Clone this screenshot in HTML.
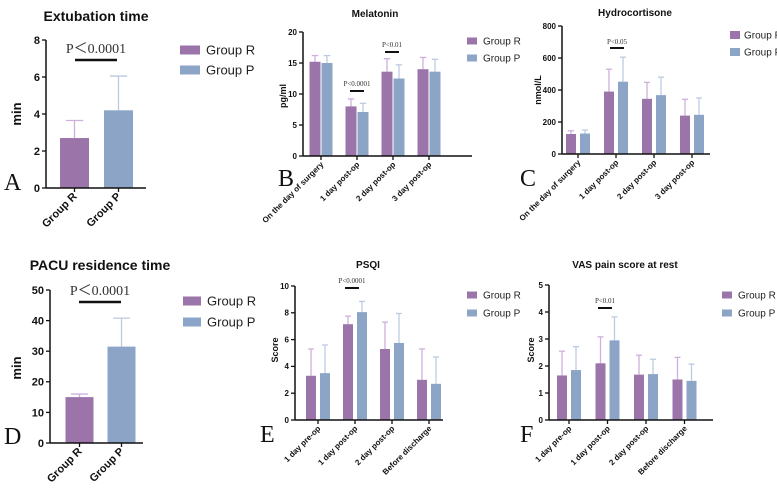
<!DOCTYPE html>
<html><head><meta charset="utf-8"><style>
body{margin:0;background:#fff}
svg{display:block;font-family:"Liberation Sans",sans-serif}
</style></head><body>
<svg id="fig" width="777" height="494" viewBox="0 0 777 494"></svg>
<script>
const groups2 = ["Group R","Group P"];
const extVals = [2.7,4.2], extErr = [3.65,6.05];
const pacuVals = [15,31.5], pacuErr = [16,40.8];
const melCats = ["On the day of surgery","1 day post-op","2 day post-op","3 day post-op"];
const melR = [15.2,8.0,13.6,14.0], melRerr = [16.2,9.2,15.7,15.9];
const melP = [15.0,7.1,12.5,13.6], melPerr = [16.2,8.5,14.7,15.6];
const hydCats = ["On the day of surgery","1 day post-op","2 day post-op","3 day post-op"];
const hydR = [125,390,345,240], hydRerr = [145,530,448,342];
const hydP = [128,452,368,245], hydPerr = [150,605,480,350];
const sleepCats = ["1 day pre-op","1 day post-op","2 day post-op","Before discharge"];
const psqiR = [3.3,7.15,5.3,3.0], psqiRerr = [5.3,7.75,7.3,5.3];
const psqiP = [3.5,8.05,5.75,2.7], psqiPerr = [5.6,8.85,7.95,4.7];
const vasR = [1.65,2.1,1.68,1.5], vasRerr = [2.55,3.08,2.4,2.32];
const vasP = [1.85,2.95,1.7,1.45], vasPerr = [2.72,3.82,2.25,2.07];
const ticksA = [0,2,4,6,8], ticksD = [0,10,20,30,40,50], ticksB = [0,5,10,15,20];
const ticksC = [0,200,400,600,800], ticksE = [0,2,4,6,8,10], ticksF = [0,1,2,3,4,5];

const NS="http://www.w3.org/2000/svg", fig=document.getElementById('fig');
const CR="#9b74a9", CP="#8ca5c7", ER="#cfb0dc", EP="#bccbe3";
function mk(tag,attrs,parent,txt){const e=document.createElementNS(NS,tag);for(const k in attrs)e.setAttribute(k,attrs[k]);if(txt!==undefined)e.textContent=txt;(parent||fig).appendChild(e);return e;}

function bar(g,cx,bw,v,e,c,ec,Y,y0,name){
  mk('line',{x1:cx,x2:cx,y1:Y(v),y2:Y(e),stroke:ec,'stroke-width':1.3},g);
  mk('line',{x1:cx-bw*0.3,x2:cx+bw*0.3,y1:Y(e),y2:Y(e),stroke:ec,'stroke-width':1.3},g);
  const r=mk('rect',{x:cx-bw/2,y:Y(v),width:bw,height:y0-Y(v),fill:c},g);
  
  
}

function panel(o){
  const g=mk('g',{});
  
  
  const ymax=o.ticks[o.ticks.length-1];
  const Y=v=>o.y0-(v/ymax)*(o.y0-o.ytop);
  const X=i=>o.c0+i*o.step;
  const t=mk('text',{x:o.tx,y:o.ty,'text-anchor':'middle','font-size':o.tfs,'font-weight':'bold',fill:'#111'},g,o.title);
  
  
  for(let i=0;i<o.cats.length;i++){
    if(o.single){
      bar(g,X(i),o.bw,o.V[i],o.E[i],[CR,CP][i],[ER,EP][i],Y,o.y0,'bar-'+i);
    } else {
      bar(g,X(i)-(o.gap/2+o.bw/2),o.bw,o.R[i],o.Re[i],CR,ER,Y,o.y0,'bar-group-r-'+i);
      bar(g,X(i)+(o.gap/2+o.bw/2),o.bw,o.P[i],o.Pe[i],CP,EP,Y,o.y0,'bar-group-p-'+i);
    }
  }
  mk('line',{x1:o.ax,x2:o.ax,y1:o.ytop,y2:o.y0,stroke:'#111','stroke-width':1.5},g);
  mk('line',{x1:o.ax,x2:o.xend,y1:o.y0,y2:o.y0,stroke:'#111','stroke-width':1.5},g);
  o.ticks.forEach(v=>{
    mk('line',{x1:o.ax-4,x2:o.ax,y1:Y(v),y2:Y(v),stroke:'#111','stroke-width':1.3},g);
    mk('text',{x:o.ax-6,y:Y(v)+o.fs*0.35,'text-anchor':'end','font-size':o.fs,'font-weight':'bold',fill:'#111'},g,v);
  });
  o.cats.forEach((c,i)=>{
    mk('line',{x1:X(i),x2:X(i),y1:o.y0,y2:o.y0+4,stroke:'#111','stroke-width':1.3},g);
    const tx=X(i)+3,ty=o.y0+9;
    const lt=mk('text',{x:tx,y:ty,'text-anchor':'end','font-size':o.xfs,'font-weight':'bold',fill:'#111',transform:`rotate(-45 ${tx} ${ty})`},g,c);
    
    
  });
  const yl=mk('text',{x:o.ylx,y:o.yly,'text-anchor':'middle','font-size':o.ylfs,'font-weight':'bold',fill:'#111',transform:`rotate(-90 ${o.ylx} ${o.yly})`},g,o.ylabel);
  
  
  if(o.sig){
    const [cx,txt,by,fsz]=o.sig;
    mk('line',{x1:cx-o.sigw,x2:cx+o.sigw,y1:by,y2:by,stroke:'#111','stroke-width':o.sigsw},g);
    mk('text',{x:cx,y:by-o.sigoff,'text-anchor':'middle','font-size':fsz,'font-family':'Liberation Serif, serif',fill:'#333'},g,txt);
  }
  [[CR,'Group R',o.ly1],[CP,'Group P',o.ly2]].forEach(([c,lab,ly])=>{
    const lg=mk('g',{},g);
    
    
    mk('rect',{x:o.lx,y:ly-o.lh/2,width:o.lw,height:o.lh,fill:c},lg);
    mk('text',{x:o.lx+o.lw+(o.lgap||6),y:ly+o.lfs*0.36,'font-size':o.lfs,fill:'#222'},lg,lab);
  });
  mk('text',{x:o.L[1],y:o.L[2],'font-size':24,'font-family':'Liberation Serif, serif',fill:'#111'},g,o.L[0]);
}

panel({id:'extubation',title:'Extubation time',tx:96,ty:21,tfs:14,cats:groups2,single:true,V:extVals,E:extErr,
 ticks:ticksA,ax:46,xend:146,y0:188,ytop:40,c0:74.5,step:44,bw:29,fs:11,xfs:11,
 ylabel:'min',ylx:21,yly:114,ylfs:13,sig:[96,'P\uFF1C0.0001',60,14],sigw:21,sigsw:2.5,sigoff:7,
 lx:180,lw:20,lh:9,ly1:50,ly2:70,lfs:13,L:['A',4,190]});
panel({id:'pacu',title:'PACU residence time',tx:100,ty:270,tfs:14,cats:groups2,single:true,V:pacuVals,E:pacuErr,
 ticks:ticksD,ax:50,xend:143,y0:443,ytop:290,c0:79.5,step:42,bw:28,fs:11,xfs:11,
 ylabel:'min',ylx:21,yly:368,ylfs:13,sig:[100,'P\uFF1C0.0001',302,14],sigw:21,sigsw:2.5,sigoff:7,
 lx:183,lw:18,lh:9,ly1:301,ly2:322,lfs:13,L:['D',4,444]});
panel({id:'melatonin',title:'Melatonin',tx:375,ty:17,tfs:10,cats:melCats,R:melR,Re:melRerr,P:melP,Pe:melPerr,
 ticks:ticksB,ax:303,xend:472,y0:156,ytop:32,c0:321,step:36,bw:11,gap:1,fs:8,xfs:8,
 ylabel:'pg/ml',ylx:286,yly:96,ylfs:9,sig:null,
 lx:467,lw:10,lh:7,ly1:41,ly2:58,lfs:10,L:['B',278,186]});
panel({id:'hydrocortisone',title:'Hydrocortisone',tx:635,ty:16,tfs:10,cats:hydCats,R:hydR,Re:hydRerr,P:hydP,Pe:hydPerr,
 ticks:ticksC,ax:562,xend:710,y0:154,ytop:26,c0:578,step:38,bw:10,gap:4,fs:8,xfs:8,
 ylabel:'nmol/L',ylx:541,yly:90,ylfs:9,sig:[617,'P<0.05',48,7],sigw:7,sigsw:2,sigoff:4,
 lx:730,lw:10,lh:8,lgap:4,ly1:35,ly2:52,lfs:10,L:['C',520,186]});
panel({id:'psqi',title:'PSQI',tx:368,ty:268,tfs:10,cats:sleepCats,R:psqiR,Re:psqiRerr,P:psqiP,Pe:psqiPerr,
 ticks:ticksE,ax:295,xend:443,y0:420,ytop:286,c0:318,step:37,bw:10,gap:4,fs:8,xfs:8,
 ylabel:'Score',ylx:278,yly:350,ylfs:9,sig:[352,'P<0.0001',288,7],sigw:7,sigsw:2,sigoff:5,
 lx:467,lw:10,lh:7,ly1:295,ly2:313,lfs:10,L:['E',260,442]});
panel({id:'vas',title:'VAS pain score at rest',tx:625,ty:268,tfs:10,cats:sleepCats,R:vasR,Re:vasRerr,P:vasP,Pe:vasPerr,
 ticks:ticksF,ax:549,xend:713,y0:420,ytop:285,c0:569,step:38.5,bw:10,gap:4,fs:8,xfs:8,
 ylabel:'Score',ylx:534,yly:350,ylfs:9,sig:[605,'P<0.01',308,7],sigw:7,sigsw:2,sigoff:5,
 lx:722,lw:10,lh:7,ly1:295,ly2:313,lfs:10,L:['F',520,442]});
(function(){
  const g=mk('g',{});
  
  
  [[357,'P<0.0001',91],[392,'P<0.01',52]].forEach(([cx,txt,by])=>{
    mk('line',{x1:cx-7,x2:cx+7,y1:by,y2:by,stroke:'#111','stroke-width':2},g);
    mk('text',{x:cx,y:by-5,'text-anchor':'middle','font-size':7,'font-family':'Liberation Serif, serif',fill:'#333'},g,txt);
  });
})();
</script>
</body></html>
